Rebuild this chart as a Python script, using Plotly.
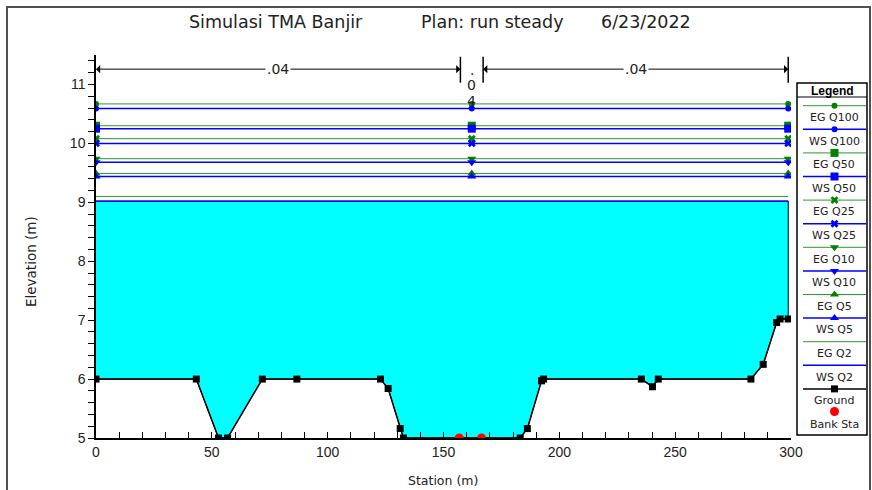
import plotly.graph_objects as go

# ---- figure geometry (pixels) ----
W, H = 872, 490
L, R, T, B = 96, 3, 55, 52
PW, PH = W - L - R, H - T - B


def px_x(p):
    return (p - L) / PW


def px_y(p):
    return (H - B - p) / PH


# ---- cross-section data ----
ground_sta = [0, 43.3, 52.9, 56.8, 71.8, 86.7, 122.8, 126.1, 131.3, 132.7,
              183.1, 186.2, 192.3, 193.2, 235.4, 240.2, 242.7, 282.7, 288.0,
              293.8, 295.3, 298.8]
ground_elev = [6.0, 6.0, 5.0, 5.0, 6.0, 6.0, 6.0, 5.84, 5.16, 5.0,
               5.0, 5.16, 5.97, 6.0, 6.0, 5.87, 6.0, 6.0, 6.25,
               6.96, 7.02, 7.02]
bank_sta = [156.8, 166.4]
bank_elev = [5.0, 5.0]

profiles = ["Q100", "Q50", "Q25", "Q10", "Q5", "Q2"]
ws_elev = [10.59, 10.25, 10.00, 9.68, 9.44, 9.02]
eg_elev = [10.67, 10.30, 10.08, 9.74, 9.49, 9.10]
profile_symbols = ["circle", "square", "x", "triangle-down", "triangle-up", None]
profile_sizes = [6, 8, 7, 8, 8, 0]
marker_sta = [0, 162.2, 298.8]

manning_n = [0.04, 0.04, 0.04]
manning_breaks = [0, 157.3, 167.1, 298.8]

x_ticks = [0, 50, 100, 150, 200, 250, 300]

EG_COLOR = "#2e9a2e"
WS_COLOR = "#0000ff"
FONT = "Liberation Sans, Arial, sans-serif"
WIDE = "DejaVu Sans, sans-serif"
TXT = "#222"

fig = go.Figure()

# water body under the lowest water surface
fig.add_trace(go.Scatter(
    x=ground_sta + [ground_sta[-1], ground_sta[0]],
    y=ground_elev + [ws_elev[-1], ws_elev[-1]],
    fill="toself", fillcolor="#00ffff", mode="lines",
    line=dict(color="black", width=1), hoverinfo="skip", showlegend=False))

# ground profile
fig.add_trace(go.Scatter(
    x=ground_sta, y=ground_elev, mode="lines+markers",
    line=dict(color="black", width=1.5),
    marker=dict(symbol="square", size=7, color="black"), showlegend=False))

# energy grade and water surface lines
for name, ws, eg, sym, sz in reversed(list(zip(profiles, ws_elev, eg_elev,
                                               profile_symbols, profile_sizes))):
    mode = "lines+markers" if sym else "lines"
    mk = dict(symbol=sym, size=sz) if sym else None
    fig.add_trace(go.Scatter(
        x=marker_sta, y=[eg] * len(marker_sta), mode=mode, name="EG " + name,
        line=dict(color=EG_COLOR, width=1),
        marker=dict(mk, color="#008000") if mk else None, showlegend=False))
    fig.add_trace(go.Scatter(
        x=marker_sta, y=[ws] * len(marker_sta), mode=mode, name="WS " + name,
        line=dict(color=WS_COLOR, width=1.5),
        marker=dict(mk, color=WS_COLOR) if mk else None, showlegend=False))

# bank stations
fig.add_trace(go.Scatter(
    x=bank_sta, y=bank_elev, mode="markers",
    marker=dict(symbol="circle", size=9, color="#ff0000"), showlegend=False))

# ---- Manning's n regions along the top ----
shapes = []
annotations = []
n_y = 11.26
for xb in manning_breaks[1:]:
    shapes.append(dict(type="line", xref="x", yref="y", x0=xb, x1=xb,
                       y0=11.03, y1=11.47, line=dict(color="black", width=1.5)))


def n_label(v):
    return ("%.2f" % v).lstrip("0")


for i, n in enumerate(manning_n):
    a, b = manning_breaks[i], manning_breaks[i + 1]
    mid = (a + b) / 2
    if b - a > 40:
        for end in (a, b):
            annotations.append(dict(
                x=end, y=n_y, ax=mid, ay=n_y, xref="x", yref="y",
                axref="x", ayref="y", text="", showarrow=True,
                arrowhead=1, arrowsize=1.4, arrowwidth=1, arrowcolor="black",
                standoff=0, startstandoff=0))
        annotations.append(dict(
            x=mid, y=n_y, xref="x", yref="y", text=n_label(n), showarrow=False,
            bgcolor="white", font=dict(family=WIDE, size=14, color=TXT)))
    else:
        # narrow region: characters stacked vertically
        for k, ch in enumerate(n_label(n)):
            annotations.append(dict(
                x=mid, y=11.25 - 0.265 * k, xref="x", yref="y", text=ch,
                showarrow=False, yanchor="middle",
                font=dict(family=WIDE, size=14, color=TXT)))

# ---- title and axis titles ----
title_parts = [("Simulasi TMA Banjir", 276), ("Plan: run steady", 492),
               ("6/23/2022", 646)]
for txt, cx in title_parts:
    annotations.append(dict(x=px_x(cx), y=px_y(22), xref="paper", yref="paper",
                            text=txt, showarrow=False, xanchor="center",
                            yanchor="middle",
                            font=dict(family=WIDE, size=17.5, color=TXT)))
annotations.append(dict(x=px_x(443), y=px_y(480), xref="paper", yref="paper",
                        text="Station (m)", showarrow=False, xanchor="center",
                        yanchor="middle",
                        font=dict(family=WIDE, size=12.5, color=TXT)))
annotations.append(dict(x=px_x(31), y=px_y(262), xref="paper", yref="paper",
                        text="Elevation (m)", showarrow=False, textangle=-90,
                        xanchor="center", yanchor="middle",
                        font=dict(family=WIDE, size=13.5, color=TXT)))

# outer frame
shapes.append(dict(type="path", xref="paper", yref="paper",
                   path="M %f,%f L %f,%f L %f,%f L %f,%f" % (
                       px_x(7), px_y(500), px_x(7), px_y(7),
                       px_x(870), px_y(7), px_x(870), px_y(500)),
                   line=dict(color="#505050", width=2)))

# ---- legend panel (drawn on its own pixel-scaled axes) ----
legend_items = []
for name, sym, sz in zip(profiles, profile_symbols, profile_sizes):
    legend_items.append(("EG " + name, EG_COLOR, 1, sym, sz, "#008000"))
    legend_items.append(("WS " + name, WS_COLOR, 1.5, sym, sz, WS_COLOR))
legend_items.append(("Ground", "black", 1.5, "square", 7, "black"))

shapes.append(dict(type="rect", xref="x2", yref="y2", x0=797, x1=867,
                   y0=83, y1=435, line=dict(color="black", width=1.5)))
shapes.append(dict(type="line", xref="x2", yref="y2", x0=797, x1=867,
                   y0=97, y1=97, line=dict(color="black", width=1)))
annotations.append(dict(x=832, y=90.5, xref="x2", yref="y2", text="<b>Legend</b>",
                        showarrow=False,
                        font=dict(family=FONT, size=12, color="black")))

row0, pitch = 105.7, 23.6
for i, (label, lc, lw, sym, sz, mc) in enumerate(legend_items):
    ly = row0 + pitch * i
    fig.add_trace(go.Scatter(x=[803, 866], y=[ly, ly], mode="lines",
                             line=dict(color=lc, width=lw), xaxis="x2", yaxis="y2",
                             showlegend=False, hoverinfo="skip"))
    if sym:
        fig.add_trace(go.Scatter(x=[834.5], y=[ly], mode="markers",
                                 marker=dict(symbol=sym, size=sz, color=mc),
                                 xaxis="x2", yaxis="y2", showlegend=False,
                                 hoverinfo="skip"))
    annotations.append(dict(x=834, y=ly + 11.8, xref="x2", yref="y2", text=label,
                            showarrow=False,
                            font=dict(family=WIDE, size=11, color=TXT)))

bank_row = row0 + pitch * len(legend_items)
fig.add_trace(go.Scatter(x=[834.5], y=[bank_row - 1], mode="markers",
                         marker=dict(symbol="circle", size=9, color="#ff0000"),
                         xaxis="x2", yaxis="y2", showlegend=False, hoverinfo="skip"))
annotations.append(dict(x=834, y=bank_row + 11.5, xref="x2", yref="y2",
                        text="Bank Sta", showarrow=False,
                        font=dict(family=WIDE, size=11, color=TXT)))

fig.update_layout(
    width=W, height=H, margin=dict(l=L, r=R, t=T, b=B, autoexpand=False),
    paper_bgcolor="white", plot_bgcolor="white",
    shapes=shapes, annotations=annotations,
    xaxis=dict(domain=[0, px_x(791)], range=[0, 300], tickvals=x_ticks,
               showline=True, linecolor="black", linewidth=1.5,
               ticks="inside", ticklen=6, tickwidth=1, tickcolor="black",
               minor=dict(dtick=10, ticks="inside", ticklen=6,
                          tickcolor="black", tickwidth=1),
               showgrid=False, zeroline=False,
               tickfont=dict(family=FONT, size=14, color=TXT), anchor="y"),
    yaxis=dict(domain=[0, 1], range=[5, 11.5], dtick=1, tick0=5,
               showline=True, linecolor="black", linewidth=1.5,
               ticks="outside", ticklen=6, tickwidth=1, tickcolor="black",
               minor=dict(dtick=0.2, ticks="outside", ticklen=6,
                          tickcolor="black", tickwidth=1),
               showgrid=False, zeroline=False,
               tickfont=dict(family=FONT, size=14, color=TXT), anchor="x"),
    xaxis2=dict(domain=[px_x(794), 1], range=[794, 869], visible=False,
                anchor="y2", fixedrange=True),
    yaxis2=dict(domain=[px_y(437), px_y(80)], range=[437, 80], visible=False,
                anchor="x2", fixedrange=True),
)

fig.write_html("out.html")
